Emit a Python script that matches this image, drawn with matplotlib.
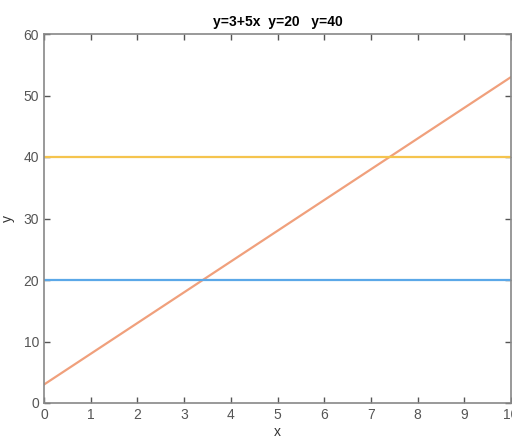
import numpy as np
import matplotlib.pyplot as plt

plt.rcParams['font.family'] = ['Liberation Sans', 'DejaVu Sans']

x = np.array([0, 10])
y_line = 3 + 5 * x
y_20 = np.array([20, 20])
y_40 = np.array([40, 40])

xticks = list(range(0, 11))
yticks = [0, 10, 20, 30, 40, 50, 60]

fig = plt.figure(figsize=(5.12, 4.41), dpi=100)
ax = fig.add_axes([44 / 512, 38 / 441, 467 / 512, 369 / 441])

ax.plot(x, y_line, color="#f0a07c", lw=1.6)
ax.plot(x, y_20, color="#5ba8e8", lw=1.6)
ax.plot(x, y_40, color="#f5c44e", lw=1.6)

ax.set_xlim(0, 10)
ax.set_ylim(0, 60)
ax.set_xticks(xticks)
ax.set_yticks(yticks)
ax.tick_params(direction="in", length=4, top=True, right=True,
               colors="#555555", labelsize=10, width=1)
for s in ax.spines.values():
    s.set_color("#888888")
    s.set_linewidth(1.2)

ax.set_title("y=3+5x  y=20   y=40", fontsize=10, fontweight="bold", pad=6)
ax.set_xlabel("x", fontsize=10, color="#333333", labelpad=2)
ax.set_ylabel("y", fontsize=10, color="#333333", labelpad=6)

fig.savefig("out.png", dpi=100)
